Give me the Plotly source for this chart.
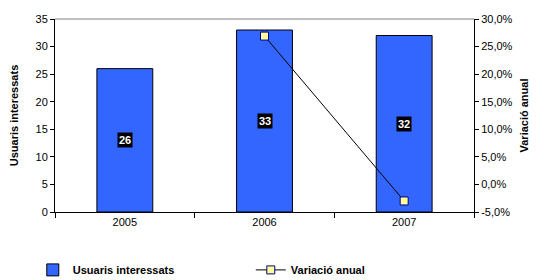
import plotly.graph_objects as go

years = ["2005", "2006", "2007"]
usuaris = [26, 33, 32]
variacio = [None, 0.269, -0.030]
bar_labels = ["26", "33", "32"]
y2_tickvals = [-0.05, 0.0, 0.05, 0.10, 0.15, 0.20, 0.25, 0.30]
y2_ticktext = ["-5,0%", "0,0%", "5,0%", "10,0%", "15,0%", "20,0%", "25,0%", "30,0%"]

fig = go.Figure()
fig.add_trace(go.Bar(
    x=years, y=usuaris, name="<b>Usuaris interessats</b>",
    marker=dict(color="#3366FF", line=dict(color="#000000", width=1)),
    yaxis="y",
))
fig.add_trace(go.Scatter(
    x=years, y=variacio, name="<b>Variació anual</b>", mode="lines+markers",
    line=dict(color="#000000", width=1),
    marker=dict(symbol="square", size=8, color="#FFFF99", line=dict(color="#000080", width=1)),
    yaxis="y2",
))

# category axis: annotation x given as category index
for i, (v, t) in enumerate(zip(usuaris, bar_labels)):
    fig.add_annotation(x=i, y=v / 2, xref="x", yref="y", text="<b>" + t + "</b>",
                       showarrow=False, font=dict(color="white", size=11, family="Liberation Sans"),
                       bgcolor="black", borderpad=1)

fig.add_shape(type="line", xref="paper", yref="paper", x0=0, x1=1, y0=1, y1=1,
              line=dict(color="#808080", width=1))

fig.update_layout(
    width=537, height=272,
    margin=dict(l=47, r=71, t=11, b=68, autoexpand=False),
    paper_bgcolor="white", plot_bgcolor="white",
    font=dict(family="Liberation Sans", size=11, color="black"),
    bargap=0.6,
    showlegend=True,
    legend=dict(orientation="h", x=-0.053, y=-0.30, xanchor="left", yanchor="middle",
                font=dict(size=11, family="Liberation Sans"), entrywidth=173, entrywidthmode="pixels",
                itemclick=False, traceorder="normal"),
    xaxis=dict(type="category", showline=True, linecolor="black", linewidth=1, ticks="outside", ticklen=5,
               tickson="boundaries", tickcolor="black", showgrid=False, automargin=False),
    yaxis=dict(range=[0, 35], dtick=5, showline=True, linecolor="black", linewidth=1,
               ticks="outside", ticklen=4, tickcolor="black", showgrid=False, zeroline=False,
               automargin=False,
               title=dict(text="<b>Usuaris interessats</b>", font=dict(size=11), standoff=18)),
    yaxis2=dict(range=[-0.05, 0.30], tickmode="array", tickvals=y2_tickvals, ticktext=y2_ticktext,
                overlaying="y", side="right", automargin=False,
                showline=True, linecolor="black", linewidth=1, ticks="outside", ticklen=4,
                tickcolor="black", showgrid=False, zeroline=False,
                title=dict(text="<b>Variació anual</b>", font=dict(size=11), standoff=8)),
)

fig.write_html("out.html")
